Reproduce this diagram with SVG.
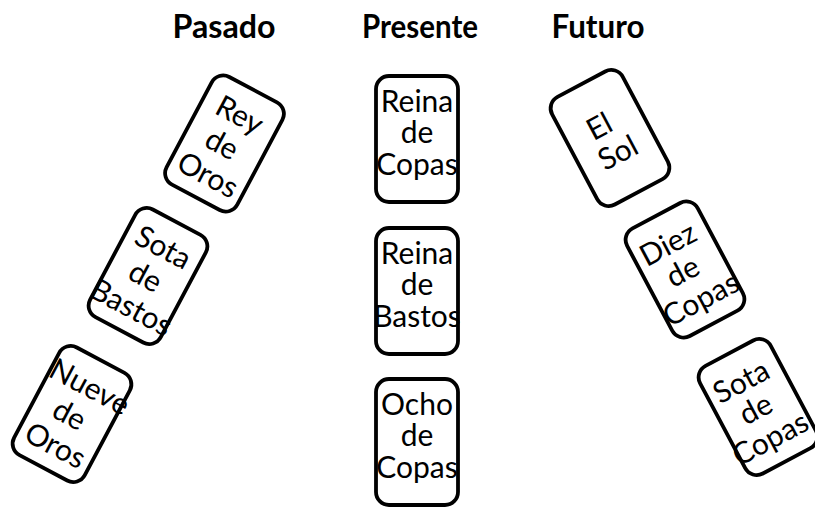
<svg xmlns="http://www.w3.org/2000/svg" width="815" height="508" viewBox="0 0 815 508">
<style>
.card{fill:#fff;stroke:#000;stroke-width:3.8}
.t{font-family:Lato,"Open Sans",sans-serif;font-size:30px;fill:#000;text-anchor:middle}
.h{font-family:Lato,"Open Sans",sans-serif;font-size:32px;font-weight:bold;fill:#000;text-anchor:middle}
</style>
<defs>
<rect id="cm" class="card" x="-41" y="-63" width="82" height="126" rx="13"/>
<rect id="cr" class="card" x="-40" y="-61" width="80" height="122" rx="13"/>
</defs>
<rect width="815" height="508" fill="#fff"/>
<g id="headers">
<text class="h" x="224" y="38" textLength="103" lengthAdjust="spacingAndGlyphs">Pasado</text>
<text class="h" x="420" y="38" textLength="116" lengthAdjust="spacingAndGlyphs">Presente</text>
<text class="h" x="598" y="38" textLength="93" lengthAdjust="spacingAndGlyphs">Futuro</text>
</g>
<g id="connectors"></g>
<g id="rey-de-oros" transform="translate(224.5,143.5) rotate(28)">
<use href="#cr"/>
<text class="t" x="0" y="-22">Rey</text><text class="t" x="-2" y="12">de</text><text class="t" x="0" y="46">Oros</text>
</g>
<g id="sota-de-bastos" transform="translate(148,276) rotate(28)">
<use href="#cr"/>
<text class="t" x="0" y="-22">Sota</text><text class="t" x="-2" y="12">de</text><text class="t" x="0" y="46">Bastos</text>
</g>
<g id="nueve-de-oros" transform="translate(72,414) rotate(28)">
<use href="#cr"/>
<text class="t" x="3" y="-22">Nueve</text><text class="t" x="-2" y="12">de</text><text class="t" x="0" y="46">Oros</text>
</g>
<g id="reina-de-copas" transform="translate(417,139)">
<use href="#cm"/>
<text class="t" y="-27">Reina</text><text class="t" y="4">de</text><text class="t" y="36">Copas</text>
</g>
<g id="reina-de-bastos" transform="translate(417,291)">
<use href="#cm"/>
<text class="t" y="-27">Reina</text><text class="t" y="4">de</text><text class="t" y="36">Bastos</text>
</g>
<g id="ocho-de-copas" transform="translate(417,442)">
<use href="#cm"/>
<text class="t" y="-27">Ocho</text><text class="t" y="4">de</text><text class="t" y="36">Copas</text>
</g>
<g id="el-sol" transform="translate(610,138) rotate(-28)">
<use href="#cr"/>
<text class="t" x="-4" y="-5">El</text><text class="t" x="0" y="27">Sol</text>
</g>
<g id="diez-de-copas" transform="translate(685,269.5) rotate(-28)">
<use href="#cr"/>
<text class="t" x="-3" y="-20">Diez</text><text class="t" x="-3" y="11">de</text><text class="t" x="0" y="44">Copas</text>
</g>
<g id="sota-de-copas" transform="translate(758,407) rotate(-28)">
<use href="#cr"/>
<text class="t" x="-3" y="-20">Sota</text><text class="t" x="-3" y="11">de</text><text class="t" x="-4" y="44">Copas</text>
</g>
</svg>
